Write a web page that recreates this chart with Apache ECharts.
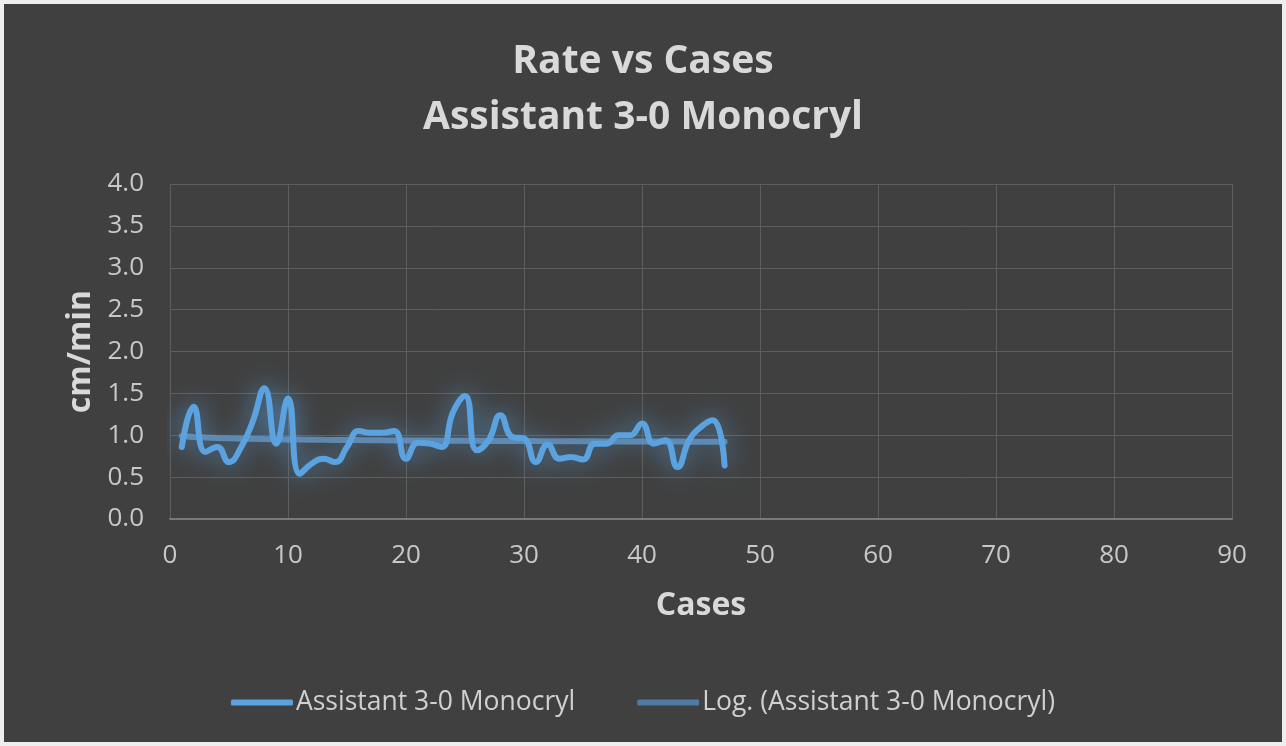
<!DOCTYPE html>
<html>
<head>
<meta charset="utf-8">
<script src="https://cdn.jsdelivr.net/npm/echarts@6/dist/echarts.min.js"></script>
<style>
html,body{margin:0;padding:0;background:#404040;}
#c{width:1286px;height:746px;}
</style>
</head>
<body>
<div id="c"></div>
<script>
const cases = [1,2,3,4,5,6,7,8,9,10,11,12,13,14,15,16,17,18,19,20,21,22,23,24,25,26,27,28,29,30,31,32,33,34,35,36,37,38,39,40,41,42,43,44,45,46,47];
const rates = [0.86,1.34,0.80,0.86,0.68,0.85,1.16,1.56,0.90,1.44,0.54,0.66,0.72,0.68,0.86,1.05,1.03,1.03,1.05,0.72,0.91,0.90,0.86,1.28,1.47,0.82,0.94,1.24,0.98,0.96,0.68,0.89,0.72,0.74,0.71,0.90,0.90,1.00,1.00,1.14,0.90,0.94,0.62,0.94,1.10,1.18,0.64];
const xTicks = [0,10,20,30,40,50,60,70,80,90];
const yTicks = [0,0.5,1,1.5,2,2.5,3,3.5,4];
const seriesName = 'Assistant 3-0 Monocryl';
const trendName = 'Log. (Assistant 3-0 Monocryl)';

// logarithmic least-squares trendline computed from the data
const lx = cases.map(v => Math.log(v));
const n = cases.length;
const mx = lx.reduce((a,b)=>a+b,0)/n;
const my = rates.reduce((a,b)=>a+b,0)/n;
let sxy=0,sxx=0;
for(let i=0;i<n;i++){sxy+=(lx[i]-mx)*(rates[i]-my);sxx+=(lx[i]-mx)*(lx[i]-mx);}
const b = sxy/sxx, a = my - b*mx;
const trend = cases.map(x => [x, a + b*Math.log(x)]);

const chart = echarts.init(document.getElementById('c'));
const font = '"Open Sans", Lato, sans-serif';
chart.setOption({
  backgroundColor:'#404040',
  animation:false,
  title:{
    text:'Rate vs Cases\nAssistant 3-0 Monocryl',
    left:'center', top:29,
    textStyle:{color:'#d9d9d9',fontSize:39,fontWeight:'bold',fontFamily:font,lineHeight:56}
  },
  graphic:[{type:'rect',shape:{x:0,y:0,width:1286,height:746},style:{fill:'none',stroke:'#eeeeee',lineWidth:8},silent:true,z:100}],
  grid:{left:170,right:54,top:184,bottom:227},
  legend:{
    bottom:25, left:'center',
    itemWidth:62, itemHeight:6, itemGap:62,
    icon:'roundRect',
    textStyle:{color:'#d0d0d0',fontSize:26.5,fontFamily:font,padding:[0,0,0,-2]},
    data:[seriesName,trendName]
  },
  xAxis:{
    type:'value', min:0, max:90, interval:10,
    name:'Cases', nameLocation:'middle', nameGap:71,
    nameTextStyle:{color:'#d9d9d9',fontSize:32,fontWeight:'bold',fontFamily:font},
    axisLine:{lineStyle:{color:'#7a7a7a',width:2}},
    axisTick:{show:false},
    axisLabel:{color:'#c8c8c8',fontSize:26,fontFamily:font,margin:24,formatter:v=>xTicks.includes(v)?String(v):''},
    splitLine:{show:true,lineStyle:{color:'#5e5e5e',width:1}}
  },
  yAxis:{
    type:'value', min:0, max:4, interval:0.5,
    name:'cm/min', nameLocation:'middle', nameGap:70, nameRotate:90,
    nameTextStyle:{color:'#d9d9d9',fontSize:32,fontWeight:'bold',fontFamily:font},
    axisLine:{show:false},
    axisTick:{show:false},
    axisLabel:{color:'#c8c8c8',fontSize:26,fontFamily:font,margin:26,formatter:v=>yTicks.includes(v)?v.toFixed(1):''},
    splitLine:{show:true,lineStyle:{color:'#5e5e5e',width:1}}
  },
  series:[
    {
      name:trendName, type:'line', data:trend, showSymbol:false, symbol:'none',
      lineStyle:{color:'#6a9ccc',width:6,opacity:0.75,cap:'round'},
      itemStyle:{color:'#4f7aa5'}, z:2
    },
    {
      name:seriesName, type:'line', smooth:0.5, showSymbol:false, symbol:'none',
      data:cases.map((c,i)=>[c,rates[i]]),
      lineStyle:{color:'#5ba3e0',width:6,cap:'round',join:'round',shadowBlur:26,shadowColor:'rgba(91,163,224,0.85)'},
      itemStyle:{color:'#5ba3e0'}, z:3
    }
  ]
});
</script>
</body>
</html>
